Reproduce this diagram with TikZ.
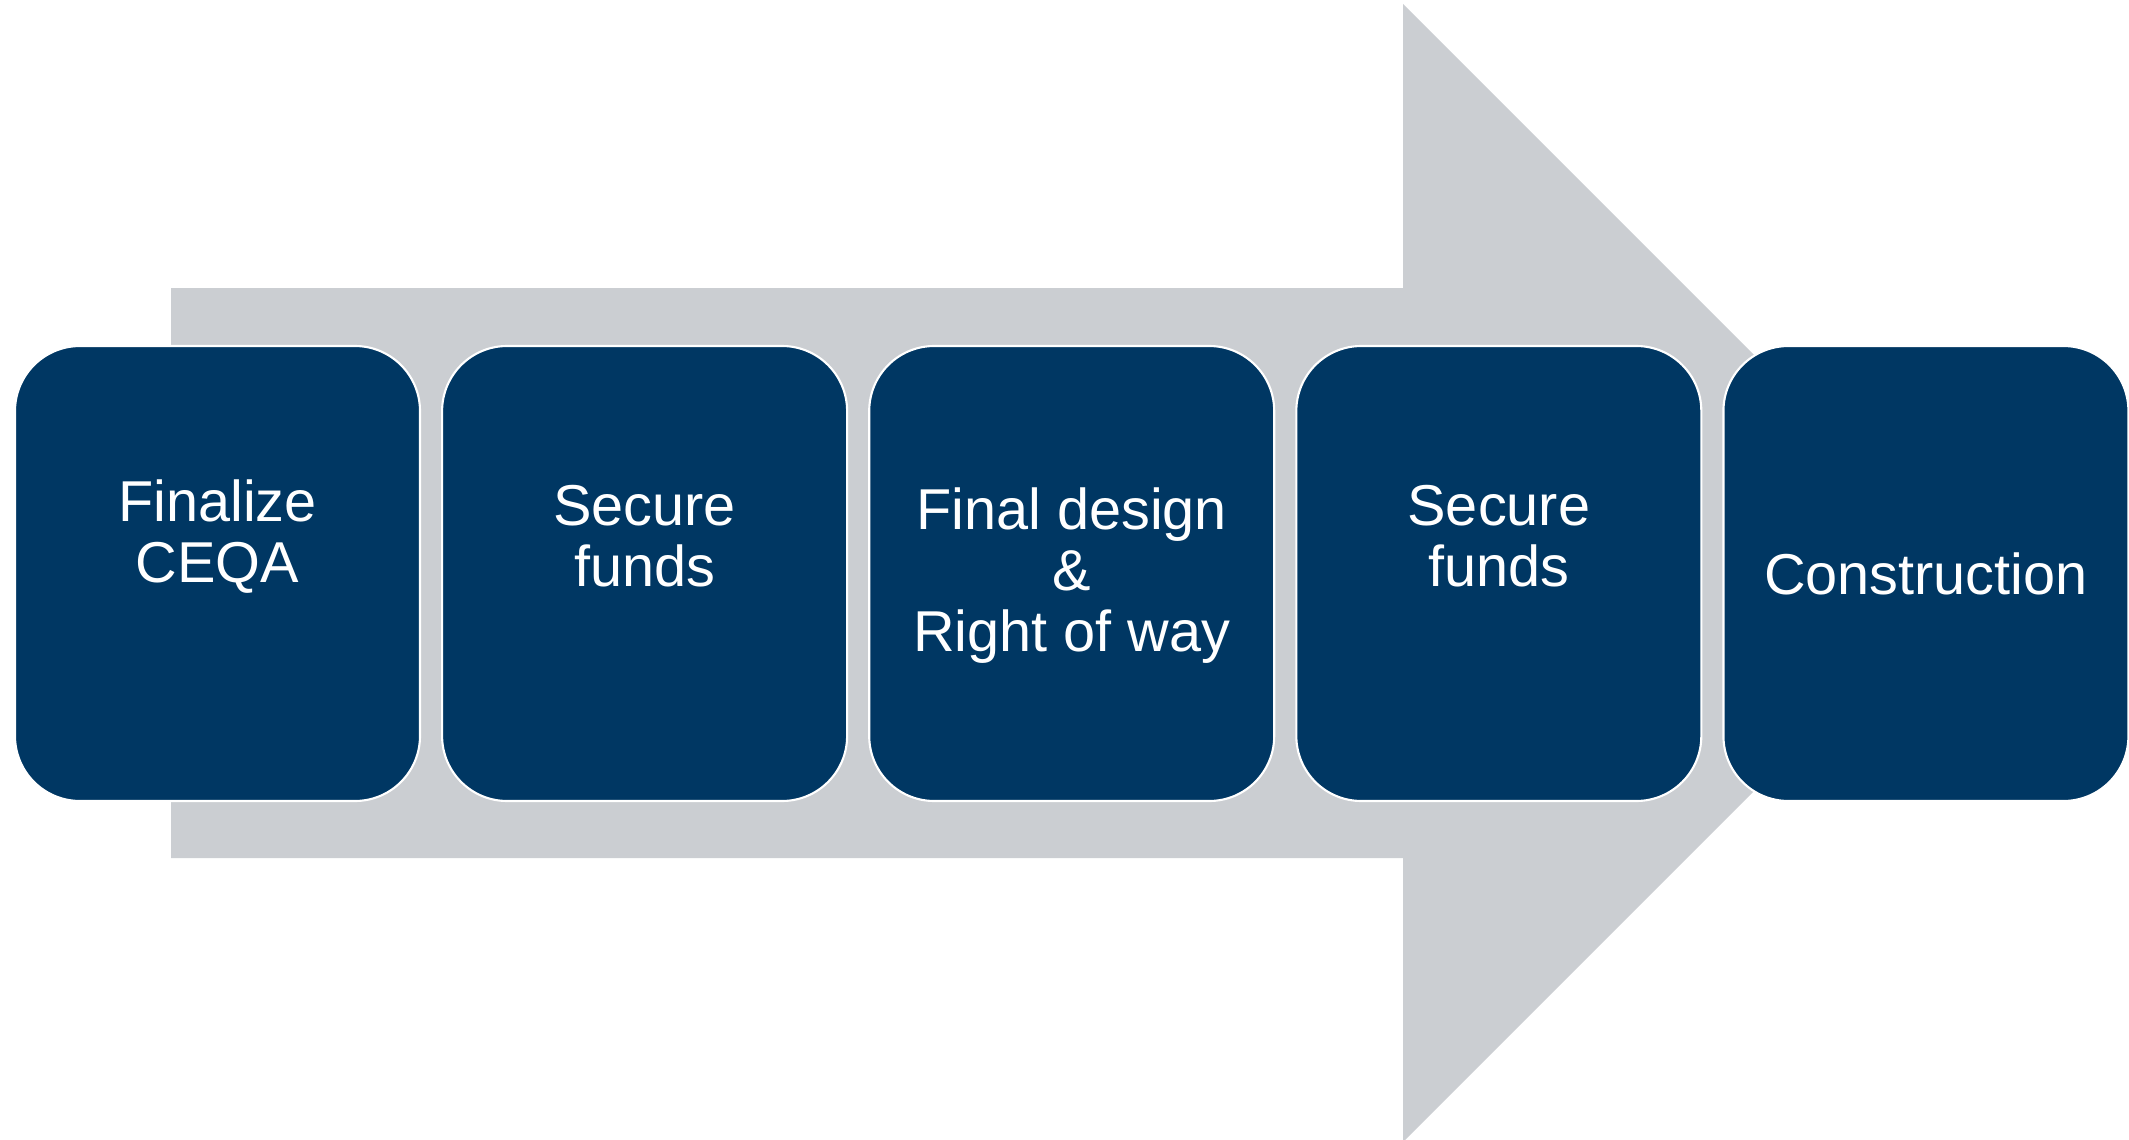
\documentclass[tikz,border=0pt]{standalone}
\usepackage{fontspec}
\setmainfont{Liberation Sans}
\usetikzlibrary{positioning}
\definecolor{arrowgray}{RGB}{203,206,210}
\definecolor{stageblue}{RGB}{0,55,99}
\tikzset{
  stagebox/.style={draw=white, line width=0.6pt, fill=stageblue,
    rounded corners=0.65cm, minimum width=4.05cm, minimum height=4.55cm,
    inner sep=0pt},
  stagetext/.style={text=white, align=center, inner sep=0pt,
    font=\fontsize{16.4}{17.4}\selectfont}
}
\begin{document}
\begin{tikzpicture}
            \useasboundingbox (0,0) rectangle (21.29,11.39);
            
            % Drawing big arrow behind the stages
            \fill [arrowgray] (1.71,2.81) -- (1.71,8.51) -- (14.03,8.51) -- (14.03,11.35)
              -- (19.72,5.66) -- (14.03,-0.03) -- (14.03,2.81) -- cycle;%
            
            % Drawing stage boxes
            \node [stagebox] (finalize) at (2.175,5.655) {};%
            \node [stagebox, right=0.2cm of finalize] (funds) {};%
            \node [stagebox, right=0.2cm of funds] (design) {};%
            \node [stagebox, right=0.2cm of design] (fundsb) {};%
            \node [stagebox, right=0.2cm of fundsb] (construction) {};%
            
            % Marking stage texts
            \node [stagetext, yshift=0.37cm] (finalizetxt) at (finalize) {Finalize\\CEQA};%
            \node [stagetext, yshift=0.37cm] (fundstxt) at (funds) {Secure\\funds};%
            \node [stagetext, yshift=-0.02cm] (designtxt) at (design) {Final design\\\&\\Right of way};%
            \node [stagetext, yshift=0.37cm] (fundsbtxt) at (fundsb) {Secure\\funds};%
            \node [stagetext] (constructiontxt) at (construction) {Construction};%
\end{tikzpicture}
\end{document}
